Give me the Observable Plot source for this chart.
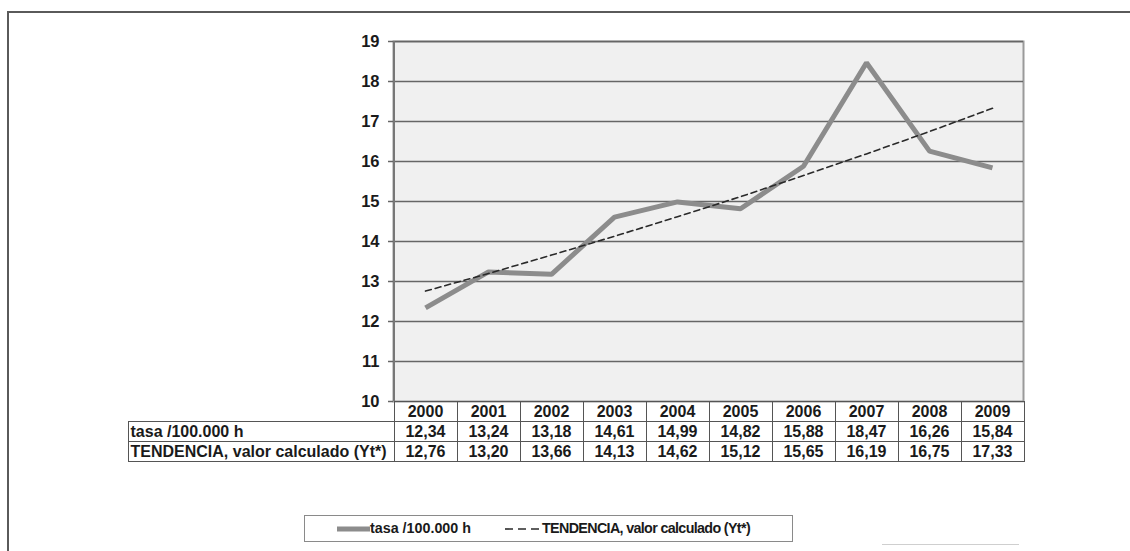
<!DOCTYPE html>
<html>
<head>
<meta charset="utf-8">
<script src="https://cdn.jsdelivr.net/npm/d3@7"></script>
<script src="https://cdn.jsdelivr.net/npm/@observablehq/plot@0.6"></script>
<style>
  body { margin: 0; background: #fff; font-family: "Liberation Sans", Arial, sans-serif; }
  #wrap { position: relative; width: 1130px; height: 551px; overflow: hidden; background: #fff; }
  #frame { position: absolute; left: 7px; top: 11px; width: 1130px; height: 560px; border-left: 2px solid #5a5a5a; border-top: 2px solid #5a5a5a; box-sizing: border-box; }
  #chart { position: absolute; left: 0; top: 0; }
  #chart svg text { font-weight: bold; }
  table.dt { position: absolute; border-collapse: collapse; table-layout: fixed; font-size: 16px; font-weight: bold; color: #1a1a1a; }
  table.dt td { height: 19px; padding: 0; border: 1px solid #555; text-align: center; line-height: 19px; white-space: nowrap; overflow: hidden; }
  table.dt td.lab { text-align: left; padding-left: 2px; }
  table.dt td.blank { border: none; }
  #legend { position: absolute; left: 304px; top: 515px; width: 489px; height: 27px; border: 1px solid #8a8a8a; box-sizing: border-box; font-size: 14.3px; font-weight: bold; color: #1a1a1a; }
  #legend .item { position: absolute; top: 0; height: 25px; line-height: 25px; white-space: nowrap; }
  #legend .tight { letter-spacing: -0.65px; }
  #faint { position: absolute; left: 882px; top: 544px; width: 137px; height: 1px; background: #cfcfcf; }
</style>
</head>
<body>
<div id="wrap">
  <div id="frame"></div>
  <div id="chart"></div>
  <div id="legend"></div>
  <div id="faint"></div>
</div>
<script>
const years = [2000, 2001, 2002, 2003, 2004, 2005, 2006, 2007, 2008, 2009];
const tasa = [12.34, 13.24, 13.18, 14.61, 14.99, 14.82, 15.88, 18.47, 16.26, 15.84];
const tendencia = [12.76, 13.20, 13.66, 14.13, 14.62, 15.12, 15.65, 16.19, 16.75, 17.33];
const yTicks = [10, 11, 12, 13, 14, 15, 16, 17, 18, 19];
const serieTasa = "tasa /100.000 h";
const serieTend = "TENDENCIA, valor calculado (Yt*)";

const rowsTasa = years.map((y, i) => ({year: y, value: tasa[i]}));
const rowsTend = years.map((y, i) => ({year: y, value: tendencia[i]}));
const fmt = v => v.toFixed(2).replace(".", ",");

const plot = Plot.plot({
  width: 1130,
  height: 420,
  marginLeft: 393,
  marginRight: 107,
  marginTop: 41,
  marginBottom: 19,
  style: {fontFamily: "'Liberation Sans', Arial, sans-serif", fontSize: "16px", color: "#1a1a1a", background: "transparent"},
  x: {type: "point", domain: years, padding: 0.5, axis: null},
  y: {domain: [10, 19], axis: null},
  marks: [
    Plot.frame({fill: "#f0f0f0", stroke: "#9a9a9a", strokeWidth: 2}),
    Plot.ruleY(yTicks.filter(t => t > 10), {stroke: "#666", strokeWidth: 1.5}),
    Plot.ruleX([years[0]], {stroke: "#777", strokeWidth: 2, dx: -31.5, y1: 10, y2: 19}),
    Plot.axisY({ticks: yTicks, tickSize: 5, tickPadding: 9, fontSize: 16.5, fontWeight: "bold", stroke: "#666", strokeWidth: 1.5, tickFormat: d => d, label: null}),
    Plot.line(rowsTasa, {x: "year", y: "value", stroke: "#8c8c8c", strokeWidth: 5, strokeLinejoin: "miter", strokeLinecap: "butt"}),
    Plot.line(rowsTend, {x: "year", y: "value", stroke: "#2a2a2a", strokeWidth: 1.6, strokeDasharray: "6,4"})
  ]
});
document.getElementById("chart").appendChild(plot);

// Data table aligned with x scale
const xs = plot.scale("x");
const step = xs.apply(years[1]) - xs.apply(years[0]);
const colLeft = xs.apply(years[0]) - step / 2;
const ys = plot.scale("y");
const tableTop = ys.apply(10);
const labW = 266;
const table = document.createElement("table");
table.className = "dt";
table.style.left = (colLeft - labW) + "px";
table.style.top = tableTop + "px";
const cg = document.createElement("colgroup");
[labW, ...years.map(() => step)].forEach(w => { const c = document.createElement("col"); c.style.width = w + "px"; cg.appendChild(c); });
table.appendChild(cg);
function addRow(label, cells, blank) {
  const tr = document.createElement("tr");
  const l = document.createElement("td");
  l.className = blank ? "blank" : "lab";
  l.textContent = label;
  tr.appendChild(l);
  cells.forEach(c => { const td = document.createElement("td"); td.textContent = c; tr.appendChild(td); });
  table.appendChild(tr);
}
addRow("", years.map(String), true);
addRow(serieTasa, tasa.map(fmt));
addRow(serieTend, tendencia.map(fmt));
document.getElementById("wrap").appendChild(table);

// Legend
const legend = document.getElementById("legend");
legend.innerHTML = `
  <div class="item" style="left:31px"><svg width="34" height="25" style="vertical-align:top"><line x1="1" x2="34" y1="13" y2="13" stroke="#8c8c8c" stroke-width="5"/></svg><span>${serieTasa}</span></div>
  <div class="item" style="left:199px"><svg width="38" height="25" style="vertical-align:top"><line x1="1" x2="38" y1="13" y2="13" stroke="#2a2a2a" stroke-width="1.6" stroke-dasharray="8,5"/></svg><span class="tight">${serieTend}</span></div>`;
</script>
</body>
</html>
